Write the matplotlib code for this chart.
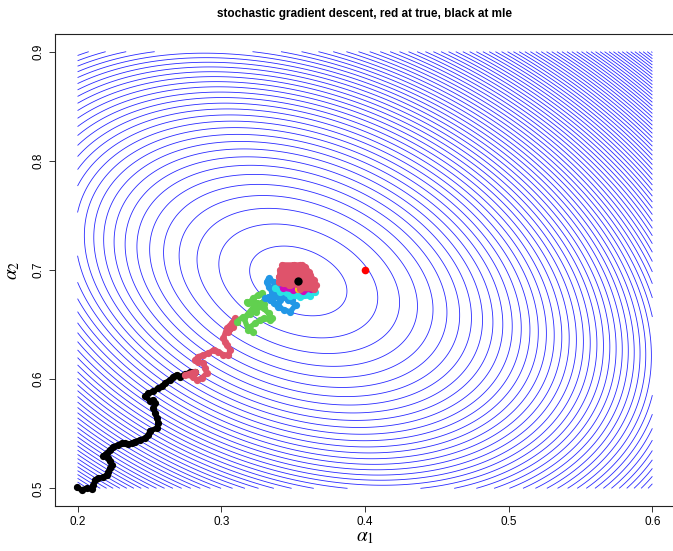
import numpy as np
import matplotlib
matplotlib.use("Agg")
import matplotlib.pyplot as plt

plt.rcParams['font.family'] = ['Liberation Sans', 'DejaVu Sans']
plt.rcParams['mathtext.fontset'] = 'stix'

# ---- surface (quadratic approximation of the objective around the mle) ----
mle = (0.3536, 0.690)
true_par = (0.400, 0.700)
hess_a, hess_b, hess_c = 573.6, 180.0, 644.6
level_offset = 0.6
n_levels = 90
a1_range = (0.2, 0.6)
a2_range = (0.5, 0.9)

# ---- SGD path segments (alpha1, alpha2) ----
black_a1 = [0.1994, 0.2029, 0.2064, 0.2099, 0.2110, 0.2122, 0.2145, 0.2180, 0.2203, 0.2215, 0.2226, 0.2238,
            0.2226, 0.2215, 0.2191, 0.2180, 0.2203, 0.2226, 0.2249, 0.2284, 0.2307, 0.2330, 0.2354, 0.2377,
            0.2400, 0.2435, 0.2470, 0.2493, 0.2505, 0.2505, 0.2551, 0.2563, 0.2551, 0.2540, 0.2528, 0.2540,
            0.2528, 0.2505, 0.2470, 0.2493, 0.2528, 0.2563, 0.2586, 0.2609, 0.2644, 0.2667, 0.2690, 0.2714,
            0.2748, 0.2783, 0.2818]
black_a2 = [0.5008, 0.4986, 0.5002, 0.4993, 0.5032, 0.5078, 0.5093, 0.5102, 0.5124, 0.5154, 0.5185, 0.5215,
            0.5246, 0.5276, 0.5307, 0.5292, 0.5322, 0.5353, 0.5383, 0.5398, 0.5414, 0.5414, 0.5405, 0.5414,
            0.5429, 0.5444, 0.5460, 0.5490, 0.5521, 0.5526, 0.5551, 0.5597, 0.5643, 0.5689, 0.5735, 0.5781,
            0.5811, 0.5802, 0.5842, 0.5872, 0.5888, 0.5918, 0.5933, 0.5964, 0.5994, 0.6024, 0.6040, 0.6024,
            0.6045, 0.6063, 0.6070]
red1_a1 = [0.2818, 0.2748, 0.2806, 0.2829, 0.2864, 0.2899, 0.2887, 0.2876, 0.2841, 0.2818, 0.2841, 0.2876,
           0.2911, 0.2946, 0.2980, 0.3015, 0.3050, 0.3062, 0.3038, 0.3027, 0.3015, 0.3038, 0.3073, 0.3096,
           0.3108, 0.3050, 0.3085]
red1_a2 = [0.6070, 0.6039, 0.6024, 0.5994, 0.6009, 0.6055, 0.6101, 0.6146, 0.6161, 0.6177, 0.6207, 0.6222,
           0.6237, 0.6268, 0.6253, 0.6222, 0.6222, 0.6268, 0.6314, 0.6344, 0.6375, 0.6466, 0.6512, 0.6558,
           0.6527, 0.6430, 0.6480]
green_a1 = [0.3108, 0.3154, 0.3189, 0.3224, 0.3189, 0.3236, 0.3271, 0.3294, 0.3340, 0.3352, 0.3329, 0.3294,
            0.3247, 0.3212, 0.3178, 0.3189, 0.3224, 0.3259, 0.3282, 0.3306, 0.3240, 0.3200, 0.3160, 0.3250,
            0.3300]
green_a2 = [0.6527, 0.6573, 0.6451, 0.6436, 0.6466, 0.6512, 0.6543, 0.6558, 0.6543, 0.6558, 0.6604, 0.6649,
            0.6665, 0.6695, 0.6710, 0.6695, 0.6741, 0.6771, 0.6787, 0.6741, 0.6620, 0.6600, 0.6560, 0.6700,
            0.6690]
blue_a1 = [0.3306, 0.3329, 0.3364, 0.3399, 0.3410, 0.3387, 0.3352, 0.3329, 0.3317, 0.3329, 0.3364, 0.3399,
           0.3433, 0.3457, 0.3492, 0.3400, 0.3350, 0.3380, 0.3440, 0.3470,
           0.3339, 0.3395, 0.3436, 0.3478, 0.3520, 0.3464, 0.3408, 0.3353, 0.3374, 0.3429, 0.3492]
blue_a2 = [0.6741, 0.6756, 0.6695, 0.6665, 0.6726, 0.6771, 0.6802, 0.6848, 0.6893, 0.6924, 0.6893, 0.6863,
           0.6771, 0.6741, 0.6756, 0.6800, 0.6760, 0.6850, 0.6820, 0.6790,
           0.6727, 0.6663, 0.6636, 0.6617, 0.6681, 0.6727, 0.6763, 0.6818, 0.6873, 0.6836, 0.6727]
cyan_a1 = [0.3374, 0.3408, 0.3457, 0.3492, 0.3527, 0.3562, 0.3597, 0.3631, 0.3652, 0.3617, 0.3548, 0.3478]
cyan_a2 = [0.6836, 0.6800, 0.6790, 0.6818, 0.6790, 0.6772, 0.6790, 0.6818, 0.6800, 0.6763, 0.6754, 0.6763]
magenta_a1 = [0.3429, 0.3499, 0.3569, 0.3624]
magenta_a2 = [0.6836, 0.6818, 0.6809, 0.6827]
yellow_a1 = [0.3534, 0.3603]
yellow_a2 = [0.6827, 0.6845]
red2_a1 = [0.3550, 0.3503, 0.3468, 0.3433, 0.3399, 0.3422, 0.3445, 0.3468, 0.3503, 0.3538, 0.3561, 0.3585,
           0.3608, 0.3619, 0.3585, 0.3550, 0.3515, 0.3480, 0.3445, 0.3410, 0.3399, 0.3433, 0.3480, 0.3527,
           0.3561, 0.3538, 0.3503, 0.3480,
           0.3423, 0.3548, 0.3582, 0.3408, 0.3408, 0.3617, 0.3645, 0.3443, 0.3478, 0.3659, 0.3645, 0.3548]
red2_a2 = [0.6848, 0.6878, 0.6863, 0.6878, 0.6893, 0.6939, 0.6985, 0.7030, 0.7045, 0.7030, 0.7045, 0.7030,
           0.6985, 0.6939, 0.6893, 0.6863, 0.6878, 0.6893, 0.6878, 0.6893, 0.6939, 0.6970, 0.6954, 0.6939,
           0.6909, 0.7000, 0.7030, 0.6985,
           0.7047, 0.7047, 0.7001, 0.7001, 0.6955, 0.6955, 0.6910, 0.6910, 0.6864, 0.6864, 0.6830, 0.6830]

seg_colors = ['black', '#DF536B', '#61D04F', '#2297E6', '#28E2E5', '#CD0BBC', '#F5C710', '#DF536B']
segments = [(black_a1, black_a2), (red1_a1, red1_a2), (green_a1, green_a2), (blue_a1, blue_a2),
            (cyan_a1, cyan_a2), (magenta_a1, magenta_a2), (yellow_a1, yellow_a2), (red2_a1, red2_a2)]

title = "stochastic gradient descent, red at true, black at mle"

fig = plt.figure(figsize=(6.73, 5.51), dpi=100)
ax = fig.add_axes([0.0811, 0.0820, 0.9224, 0.8559])

g1 = np.linspace(a1_range[0], a1_range[1], 401)
g2 = np.linspace(a2_range[0], a2_range[1], 401)
X, Y = np.meshgrid(g1, g2)
dx = X - mle[0]
dy = Y - mle[1]
Z = hess_a * dx**2 + 2 * hess_b * dx * dy + hess_c * dy**2
levels = level_offset + np.arange(n_levels)
ax.contour(X, Y, Z, levels=levels, colors='#2a2aff', linewidths=0.6)

for (sx, sy), col in zip(segments, seg_colors):
    ax.plot(sx, sy, '-o', color=col, lw=3.8, ms=5.2, mew=0, solid_capstyle='round',
            solid_joinstyle='round', zorder=3)

ax.plot([mle[0]], [mle[1]], 'o', color='black', ms=6, mew=0, zorder=5)
ax.plot([true_par[0]], [true_par[1]], 'o', color='#FF0000', ms=5.5, mew=0, zorder=5)

ax.set_xlim(0.184, 0.616)
ax.set_ylim(0.484, 0.916)
ax.set_xticks([0.2, 0.3, 0.4, 0.5, 0.6])
ax.set_xticklabels(['0.2', '0.3', '0.4', '0.5', '0.6'])
ax.set_yticks([0.5, 0.6, 0.7, 0.8, 0.9])
ax.set_yticklabels(['0.5', '0.6', '0.7', '0.8', '0.9'], rotation=90, va='center')
ax.tick_params(axis='both', labelsize=8.5, length=4, width=0.7, color='#333333', pad=3)
for s in ax.spines.values():
    s.set_linewidth(0.8)
    s.set_color('#222222')

ax.set_xlabel(r'$\alpha_1$', fontsize=14, labelpad=1)
ax.set_ylabel(r'$\alpha_2$', fontsize=14, labelpad=8)
fig.text(0.542, 0.975, title, ha='center', va='center', fontsize=8.5, fontweight='bold')

fig.savefig('out.png', dpi=100)
